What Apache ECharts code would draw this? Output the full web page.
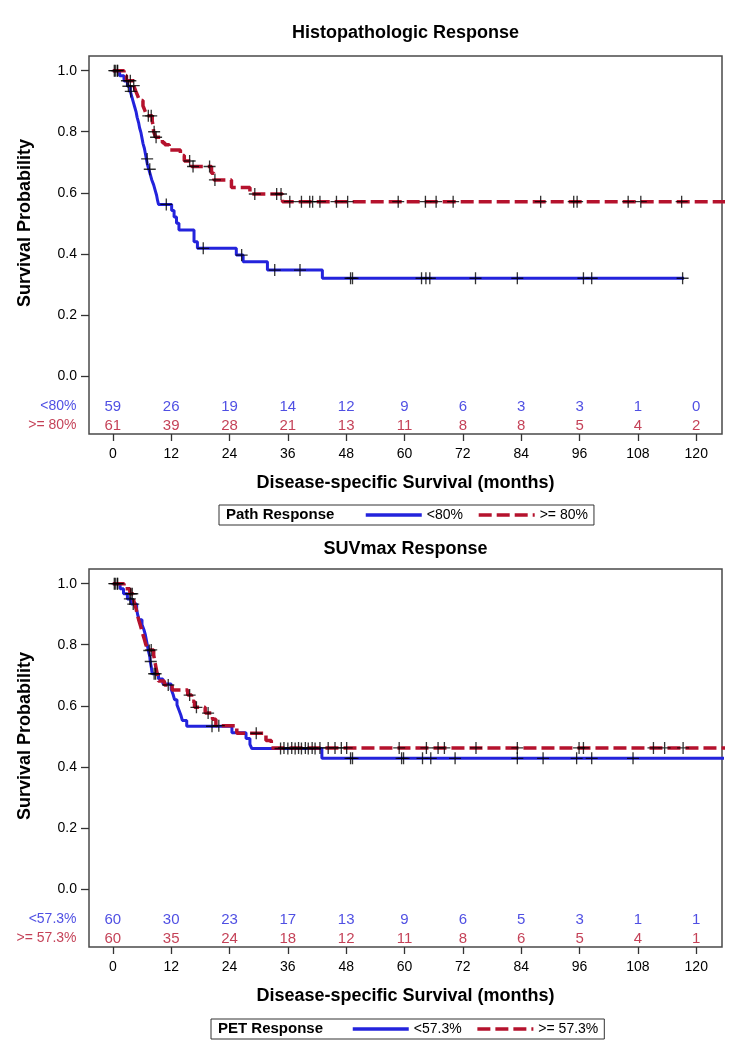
<!DOCTYPE html>
<html>
<head>
<meta charset="utf-8">
<script src="https://cdn.jsdelivr.net/npm/echarts@6/dist/echarts.min.js"></script>
<style>
  html, body { margin: 0; background: #fff; }
  #chart { width: 734px; height: 1050px; }
</style>
</head>
<body>
<div id="chart"></div>
<script>
// tick labels
const monthTicks = [0, 12, 24, 36, 48, 60, 72, 84, 96, 108, 120];
const probTicks = [0, 0.2, 0.4, 0.6, 0.8, 1.0];

// Histopathologic response: KM steps [month, survival] and censor times
const pathLowSteps = [[0,1],[1.4,0.983],[2.3,0.966],[3.0,0.949],[3.6,0.932],[3.9,0.915],[4.2,0.898],[4.5,0.881],[4.8,0.864],[5.0,0.847],[5.3,0.83],[5.5,0.813],[5.8,0.796],[6.0,0.779],[6.2,0.762],[6.5,0.745],[6.7,0.728],[6.9,0.711],[7.1,0.694],[7.4,0.677],[7.7,0.66],[8.0,0.643],[8.4,0.626],[8.7,0.609],[9.0,0.592],[9.2,0.575],[9.4,0.562],[12.1,0.542],[12.6,0.521],[13.1,0.5],[13.6,0.478],[16.7,0.44],[17.4,0.418],[25.4,0.396],[26.8,0.374],[31.8,0.347],[43.1,0.32],[117.5,0.32]];
const pathLowCensors = [0.3, 0.9, 3.2, 3.7, 7.06, 7.6, 11.0, 18.6, 26.5, 33.3, 38.5, 48.9, 49.3, 63.5, 64.4, 65.2, 74.6, 83.2, 96.8, 98.5, 117.2];
const pathHighSteps = [[0,1],[2.3,0.984],[2.8,0.967],[4.3,0.951],[4.7,0.934],[5.1,0.918],[5.5,0.902],[6.2,0.885],[6.6,0.869],[7.0,0.852],[8.1,0.835],[8.3,0.818],[8.4,0.8],[8.8,0.782],[10.2,0.764],[10.7,0.757],[11.6,0.74],[13.9,0.722],[14.7,0.704],[16.2,0.686],[20.3,0.664],[20.8,0.642],[24.4,0.617],[28.2,0.596],[34.9,0.571],[126,0.571]];
const pathHighCensors = [0.5, 1.0, 2.9, 3.6, 4.3, 7.3, 7.9, 8.5, 8.9, 15.8, 16.5, 19.9, 21.0, 29.2, 33.7, 34.6, 36.4, 38.8, 40.5, 41.1, 42.6, 46.0, 48.3, 58.7, 64.3, 66.5, 70.0, 88.0, 94.8, 95.5, 106.0, 108.6, 117.0];
const pathAtRiskLow = [59, 26, 19, 14, 12, 9, 6, 3, 3, 1, 0];
const pathAtRiskHigh = [61, 39, 28, 21, 13, 11, 8, 8, 5, 4, 2];

// SUVmax response
const petLowSteps = [[0,1],[1.5,0.983],[2.2,0.967],[3.0,0.95],[3.8,0.933],[4.9,0.916],[5.1,0.899],[5.4,0.882],[6.0,0.866],[6.4,0.849],[6.7,0.832],[6.9,0.815],[7.1,0.798],[7.3,0.781],[7.6,0.762],[7.7,0.745],[7.9,0.728],[8.1,0.705],[9.4,0.688],[10.3,0.671],[12.0,0.654],[12.4,0.637],[12.7,0.62],[13.2,0.603],[13.6,0.586],[14.0,0.569],[14.3,0.552],[15.2,0.533],[24.5,0.512],[27.4,0.493],[28.2,0.474],[28.6,0.46],[43.0,0.428],[126,0.428]];
const petLowCensors = [0.3, 0.9, 3.5, 4.2, 7.5, 7.8, 8.5, 8.8, 20.4, 34.5, 36.0, 37.5, 38.8, 40.2, 41.6, 48.9, 49.3, 59.4, 59.8, 63.7, 65.4, 70.4, 83.2, 88.5, 95.4, 98.5, 107.0];
const petHighSteps = [[0,1],[2.3,0.983],[3.5,0.967],[4.2,0.95],[4.5,0.933],[4.8,0.917],[5.0,0.9],[5.3,0.883],[5.6,0.867],[5.9,0.85],[6.2,0.833],[6.5,0.817],[6.8,0.8],[7.2,0.783],[8.4,0.766],[8.6,0.749],[8.8,0.732],[9.0,0.715],[9.2,0.698],[9.4,0.681],[10.6,0.668],[12.2,0.652],[15.4,0.635],[16.2,0.615],[16.8,0.595],[19.0,0.576],[20.5,0.556],[21.2,0.535],[25.5,0.51],[31.5,0.486],[32.6,0.462],[126,0.462]];
const petHighCensors = [0.5, 1.0, 3.7, 4.0, 7.9, 11.4, 15.8, 17.2, 19.6, 21.8, 29.5, 35.2, 36.8, 38.2, 39.6, 41.0, 42.6, 44.3, 45.7, 47.0, 48.1, 58.9, 64.5, 66.9, 68.2, 74.7, 83.2, 95.9, 96.8, 111.2, 113.5, 117.3];
const petAtRiskLow = [60, 30, 23, 17, 13, 9, 6, 5, 3, 1, 1];
const petAtRiskHigh = [60, 35, 24, 18, 12, 11, 8, 6, 5, 4, 1];

const FONT = "'Liberation Sans', Arial, sans-serif";
const BLUE = '#2323DC';
const RED = '#B5122D';
const X_MIN = -4.9, X_MAX = 125.3, Y_MIN = -0.19, Y_MAX = 1.048;
const ROW1 = -0.1, ROW2 = -0.162;
const PLUS = 'path://M-0.11,-1L0.11,-1L0.11,-0.11L1,-0.11L1,0.11L0.11,0.11L0.11,1L-0.11,1L-0.11,0.11L-1,0.11L-1,-0.11L-0.11,-0.11Z';

function survAt(steps, t) {
  let s = steps[0][1];
  for (const [x, y] of steps) {
    if (x <= t) s = y; else break;
  }
  return s;
}

function panelSeries(idx, lowName, highName, lowSteps, highSteps, lowCens, highCens, riskLow, riskHigh) {
  const base = { xAxisIndex: idx, yAxisIndex: idx };
  const riskSeries = (counts, rowY, color, label) => [
    Object.assign({}, base, {
      type: 'scatter', symbolSize: 1, clip: false, silent: true,
      itemStyle: { color: 'rgba(0,0,0,0)' },
      data: monthTicks.map((t, k) => [t, rowY, counts[k]]),
      label: { show: true, position: 'inside', formatter: p => String(p.value[2]),
        color: color, fontSize: 15, fontFamily: FONT }
    }),
    Object.assign({}, base, {
      type: 'scatter', symbolSize: 1, clip: false, silent: true,
      itemStyle: { color: 'rgba(0,0,0,0)' },
      data: [[X_MIN, rowY]],
      label: { show: true, position: 'left', distance: 12, formatter: label,
        color: color, fontSize: 14, fontFamily: FONT }
    })
  ];
  return [
    Object.assign({}, base, {
      type: 'line', name: lowName, step: 'end', symbol: 'none', data: lowSteps, z: 3,
      lineStyle: { color: BLUE, width: 3 }, itemStyle: { color: BLUE }
    }),
    Object.assign({}, base, {
      type: 'line', name: highName, step: 'end', symbol: 'none', data: highSteps, z: 4,
      lineStyle: { color: RED, width: 3.5, type: [13, 5] }, itemStyle: { color: RED }
    }),
    Object.assign({}, base, {
      type: 'scatter', symbol: PLUS, symbolSize: 12, z: 6, silent: true,
      itemStyle: { color: '#000' },
      data: lowCens.map(t => [t, survAt(lowSteps, t)])
    }),
    Object.assign({}, base, {
      type: 'scatter', symbol: PLUS, symbolSize: 12, z: 6, silent: true,
      itemStyle: { color: '#000' },
      data: highCens.map(t => [t, survAt(highSteps, t)])
    })
  ].concat(riskSeries(riskLow, ROW1, BLUE, lowName), riskSeries(riskHigh, ROW2, RED, highName));
}

function xAxisFor(idx) {
  return {
    gridIndex: idx, type: 'value', min: X_MIN, max: X_MAX,
    axisLine: { show: false, onZero: false },
    axisTick: { show: true, customValues: monthTicks, length: 7, lineStyle: { color: '#333', width: 1.3 } },
    axisLabel: { customValues: monthTicks, margin: 13, fontSize: 14, color: '#000', fontFamily: FONT },
    splitLine: { show: false },
    name: 'Disease-specific Survival (months)', nameLocation: 'middle', nameGap: 40,
    nameTextStyle: { fontSize: 18, fontWeight: 'bold', color: '#000', fontFamily: FONT }
  };
}

function yAxisFor(idx) {
  return {
    gridIndex: idx, type: 'value', min: Y_MIN, max: Y_MAX,
    axisLine: { show: false, onZero: false },
    axisTick: { show: true, customValues: probTicks, length: 8, lineStyle: { color: '#333', width: 1.3 } },
    axisLabel: { customValues: probTicks, formatter: v => v.toFixed(1), margin: 12,
      fontSize: 14, color: '#000', fontFamily: FONT },
    splitLine: { show: false }
  };
}

function legendFor(top, left, names, padLeft) {
  return {
    data: names, top: top, left: left, orient: 'horizontal', selectedMode: false,
    padding: [3, 6, 3, padLeft], itemWidth: 56, itemHeight: 14, itemGap: 14,
    borderColor: '#333', borderWidth: 1, backgroundColor: '#fff',
    itemStyle: { opacity: 0 },
    lineStyle: { width: 3.5 },
    textStyle: { fontSize: 14, color: '#000', fontFamily: FONT }
  };
}

function label(text, x, y, size, rot, align) {
  return {
    type: 'text', x: x, y: y, rotation: rot || 0, z: 10,
    style: { text: text, font: 'bold ' + size + 'px ' + FONT, fill: '#000',
      align: align || 'center', verticalAlign: 'middle',
      textAlign: align || 'center', textVerticalAlign: 'middle' }
  };
}

var chartDom = document.getElementById('chart');
var myChart = echarts.init(chartDom, null, { renderer: 'canvas' });

var option = {
  animation: false,
  backgroundColor: '#fff',
  grid: [
    { left: 89, top: 56, width: 633, height: 378, show: true, borderColor: '#4a4a4a', borderWidth: 1.5, containLabel: false, outerBoundsMode: 'none' },
    { left: 89, top: 569, width: 633, height: 378, show: true, borderColor: '#4a4a4a', borderWidth: 1.5, containLabel: false, outerBoundsMode: 'none' }
  ],
  xAxis: [xAxisFor(0), xAxisFor(1)],
  yAxis: [yAxisFor(0), yAxisFor(1)],
  legend: [
    legendFor(505, 219, ['<80%', '>= 80%'], 145),
    legendFor(1019, 211, ['<57.3%', '>= 57.3%'], 140)
  ],
  graphic: [
    label('Histopathologic Response', 405.5, 33, 18),
    label('SUVmax Response', 405.5, 549, 18),
    label('Survival Probability', 25, 223, 18, Math.PI / 2),
    label('Survival Probability', 25, 736, 18, Math.PI / 2),
    label('Path Response', 226, 515, 15, 0, 'left'),
    label('PET Response', 218, 1029, 15, 0, 'left')
  ],
  series: panelSeries(0, '<80%', '>= 80%', pathLowSteps, pathHighSteps, pathLowCensors, pathHighCensors, pathAtRiskLow, pathAtRiskHigh)
    .concat(panelSeries(1, '<57.3%', '>= 57.3%', petLowSteps, petHighSteps, petLowCensors, petHighCensors, petAtRiskLow, petAtRiskHigh))
};

option && myChart.setOption(option);
</script>
</body>
</html>
